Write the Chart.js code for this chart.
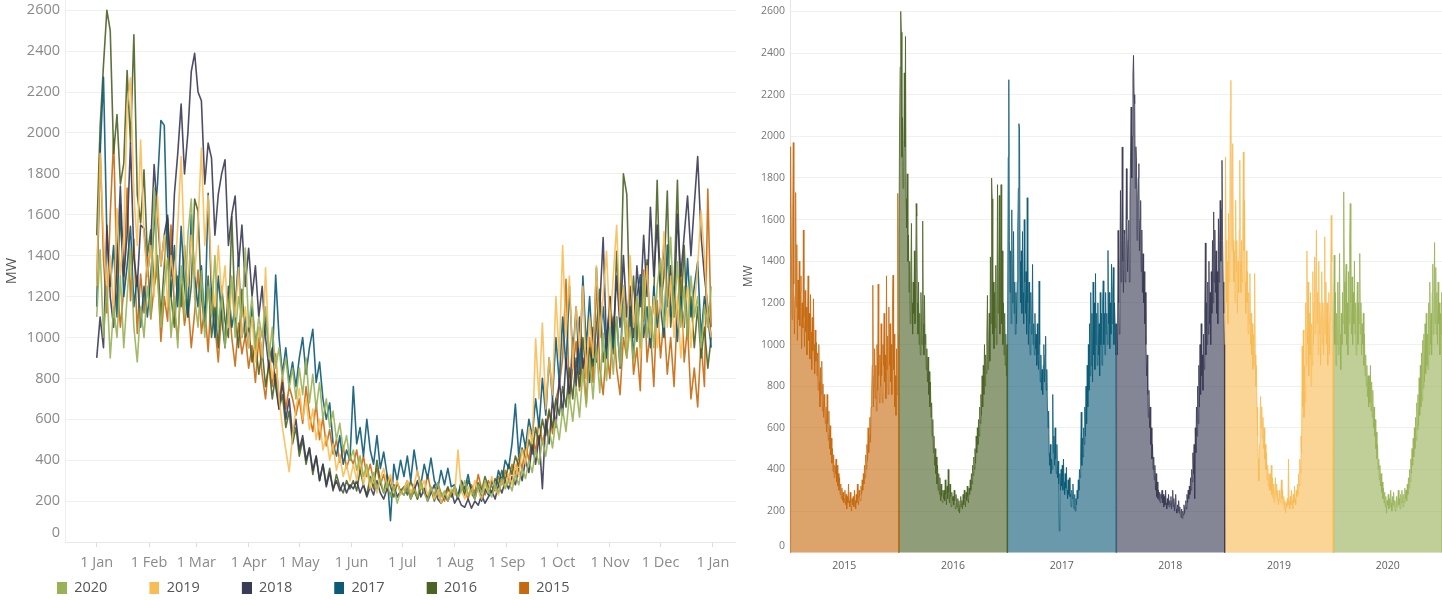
<!DOCTYPE html>
<html>
<head>
<meta charset="utf-8">
<title>Daily load by year</title>
<script src="https://cdn.jsdelivr.net/npm/chart.js@4.4.1/dist/chart.umd.min.js"></script>
<style>
  html, body { margin: 0; padding: 0; background: #ffffff; }
  #wrap { position: relative; width: 1442px; height: 600px; overflow: hidden; }
  #byDay { position: absolute; left: 0; top: 0; }
  #byYear { position: absolute; left: 736px; top: 0; }
</style>
</head>
<body>
<div id="wrap">
  <canvas id="byDay" width="736" height="600"></canvas>
  <canvas id="byYear" width="706" height="600"></canvas>
</div>
<script>
// ---- data -----------------------------------------------------------------
// One reading every second day (day 0, 2, 4 ... 364), MW, one row per month.
const dayStep = 2;

const monthLabels = ['1 Jan', '1 Feb', '1 Mar', '1 Apr', '1 May', '1 Jun', '1 Jul',
                     '1 Aug', '1 Sep', '1 Oct', '1 Nov', '1 Dec', '1 Jan'];
const monthStartDays = [0, 31, 59, 90, 120, 151, 181, 212, 243, 273, 304, 334, 365];

const legendYears = ['2020', '2019', '2018', '2017', '2016', '2015'];
const chronoYears = ['2015', '2016', '2017', '2018', '2019', '2020'];

const yearColors = {
  '2020': [152, 178, 87],
  '2019': [248, 188, 85],
  '2018': [58, 59, 84],
  '2017': [13, 90, 118],
  '2016': [75, 99, 37],
  '2015': [198, 106, 16]
};

const mw2015 = [
  1250, 1950, 1380, 1120, 1600, 1970, 1290, 1050, 1230, 1730, 1180, 1480, 1020, 1310, 1120, 1400,
  1090, 1250, 1330, 980, 1200, 1080, 1550, 1130, 990, 1260, 1060, 1180, 950, 1120,
  1330, 1020, 1150, 930, 1240, 1060, 880, 1130, 970, 1220, 1000, 860, 1070, 920, 1010,
  850, 960, 780, 1000, 820, 700, 890, 760, 920, 680, 810, 650, 760, 700, 620,
  700, 580, 760, 620, 540, 680, 500, 610, 470, 550, 430, 500, 390, 470, 360, 420,
  380, 450, 340, 420, 320, 380, 300, 360, 280, 330, 260, 310, 250, 290, 240,
  260, 300, 230, 280, 210, 270, 240, 330, 250, 220, 290, 240, 200, 260, 230,
  270, 220, 300, 250, 210, 280, 240, 330, 260, 230, 300, 270, 250, 320, 280, 350,
  300, 380, 330, 420, 360, 470, 400, 520, 440, 600, 480, 560, 650, 530, 700,
  760, 900, 1285, 700, 850, 980, 740, 900, 680, 1000, 780, 1290, 850, 720, 950,
  800, 1100, 850, 720, 1000, 900, 1150, 820, 950, 740, 1330, 880, 1040, 760, 1180,
  900, 1100, 820, 1000, 760, 1150, 1333, 880, 1050, 700, 850, 660, 980, 760, 1726, 1050
];

const mw2016 = [
  1500, 2030, 2333, 2600, 2500, 1900, 2090, 1750, 1850, 2305, 1950, 2480, 1700, 1560, 1820, 1400,
  1526, 1250, 1400, 1100, 1350, 1582, 1200, 1050, 1300, 1150, 1450, 1100, 1250, 1677,
  1617, 1200, 1050, 1300, 1000, 1150, 950, 1250, 1080, 1000, 1593, 1100, 950, 1236, 1000,
  1050, 880, 980, 820, 940, 760, 870, 700, 820, 650, 720, 560, 640, 480, 560,
  420, 500, 380, 460, 330, 420, 300, 380, 280, 360, 250, 330, 270, 240, 300, 260,
  300, 250, 350, 280, 230, 320, 260, 400, 290, 240, 330, 270, 220, 290, 250,
  270, 230, 300, 250, 210, 280, 240, 220, 260, 200, 250, 190, 230, 270, 220,
  250, 210, 280, 230, 300, 260, 220, 290, 250, 320, 270, 240, 310, 280, 350, 300,
  380, 330, 420, 370, 460, 400, 500, 430, 560, 480, 600, 520, 640, 560, 700,
  620, 760, 660, 850, 700, 900, 760, 1000, 800, 950, 860, 1050, 1236, 880, 1000,
  1150, 920, 1421, 1100, 1800, 1700, 1050, 1300, 980, 1250, 1080, 1380, 1000, 1200, 1768,
  1150, 1300, 1716, 1050, 1250, 1768, 1100, 1450, 1000, 1200, 950, 1150, 900, 1050, 850, 1000
];

const mw2017 = [
  1150, 1900, 2272, 1500, 1250, 1450, 1100, 1647, 1200, 1350, 1543, 1150, 1300, 1050, 1250, 1100,
  1300, 1550, 1750, 2061, 2037, 1400, 1200, 1450, 1150, 1543, 1250, 1100, 1600, 1300,
  1150, 1350, 1050, 1705, 1200, 1000, 1300, 1100, 950, 1250, 1050, 1150, 1385, 1000, 1100,
  950, 1150, 980, 1050, 900, 1100, 950, 880, 1305, 1000, 820, 950, 780, 880, 760,
  900, 1000, 820, 950, 1040, 780, 880, 700, 600, 680, 480, 420, 520, 380, 450, 400,
  760, 480, 560, 420, 600, 450, 380, 520, 360, 440, 330, 104, 380, 300, 400,
  320, 420, 300, 450, 340, 280, 380, 310, 410, 300, 260, 350, 280, 360, 270,
  280, 220, 300, 260, 330, 240, 210, 280, 200, 260, 230, 300, 260, 350, 300, 400,
  360, 480, 675, 420, 550, 460, 600, 520, 700, 560, 800, 620, 900, 700, 1000,
  780, 1100, 850, 1250, 900, 1150, 820, 1300, 950, 1200, 880, 1341, 1000, 1150, 900,
  1200, 950, 1100, 850, 1250, 1000, 1150, 900, 1200, 1306, 1000, 1150, 950, 1250, 1050,
  1150, 1000, 1452, 1100, 1250, 980, 1200, 1050, 1386, 1100, 1250, 1370, 1000, 1200, 1100, 950
];

const mw2018 = [
  900, 1100, 950, 1548, 1200, 1050, 1350, 1740, 1300, 1500, 1949, 1400, 1250, 1550, 1532, 1300,
  1450, 1845, 1600, 1350, 1500, 1597, 1300, 1700, 1900, 2141, 1800, 2000, 2300, 2389,
  2200, 2157, 1750, 1950, 1877, 1500, 1700, 1800, 1869, 1450, 1600, 1692, 1350, 1550, 1250,
  1436, 1200, 1350, 1100, 1250, 1000, 850, 950, 760, 650, 780, 600, 700, 520, 600,
  450, 520, 400, 460, 350, 420, 300, 380, 270, 340, 260, 300, 250, 290, 240, 280,
  260, 300, 240, 280, 220, 270, 230, 300, 240, 210, 260, 230, 280, 220, 250,
  230, 270, 210, 250, 300, 220, 260, 200, 240, 280, 210, 190, 230, 200, 250,
  190, 220, 180, 170, 210, 165, 200, 180, 230, 190, 220, 250, 210, 280, 240, 300,
  260, 320, 280, 360, 300, 400, 340, 480, 380, 520, 260, 600, 480, 700, 560,
  800, 620, 900, 700, 1000, 760, 1100, 850, 950, 780, 1050, 880, 1150, 1488, 950,
  1200, 1000, 1300, 1050, 1400, 1100, 1250, 1000, 1350, 1150, 1500, 1200, 1637, 1300, 1550,
  1250, 1450, 1150, 1350, 1100, 1604, 1300, 1500, 1692, 1400, 1650, 1885, 1500, 1300, 1150, 1000
];

const mw2019 = [
  1250, 1901, 1500, 1200, 1400, 1100, 1630, 1300, 1500, 2125, 2269, 1700, 1450, 1965, 1500, 1300,
  1450, 1200, 1693, 1350, 1500, 1150, 1400, 1250, 1550, 1885, 1400, 1250, 1500, 1300,
  1550, 1925, 1450, 1693, 1300, 1150, 1450, 1200, 1350, 1050, 1250, 1100, 1341, 1000, 1150,
  950, 1100, 880, 1050, 900, 1341, 950, 800, 900, 700, 560, 450, 344, 520, 650,
  750, 600, 700, 550, 650, 500, 600, 450, 520, 400, 480, 350, 420, 320, 380, 300,
  380, 300, 420, 280, 360, 260, 330, 240, 310, 360, 270, 330, 250, 300, 230,
  260, 300, 240, 280, 350, 260, 300, 230, 270, 210, 250, 190, 240, 220, 260,
  230, 450, 250, 210, 270, 230, 300, 250, 210, 280, 240, 320, 260, 230, 300, 270,
  330, 280, 380, 320, 450, 380, 560, 480, 993, 700, 1070, 650, 900, 720, 1200,
  900, 1450, 1000, 1300, 850, 1150, 950, 1250, 800, 1100, 900, 1350, 1000, 1200, 1421,
  1050, 1300, 1549, 1100, 1250, 950, 1400, 1050, 1200, 900, 1150, 1350, 1000, 1200, 950,
  1150, 1517, 1050, 1300, 1000, 1200, 900, 1100, 1250, 950, 1150, 1350, 1620, 1400, 1100, 1000
];

const mw2020 = [
  1100, 1429, 1000, 1250, 900, 1150, 1000, 1300, 950, 1200, 1437, 1050, 880, 1150, 1000, 1250,
  1100, 1733, 1300, 1050, 1250, 1386, 1000, 1200, 950, 1350, 1100, 1500, 1677, 1200,
  1050, 1325, 1000, 1250, 1100, 1400, 1050, 1200, 950, 1150, 1300, 1000, 1200, 1100, 1437,
  1050, 1200, 950, 1100, 1000, 1150, 900, 1050, 850, 950, 800, 900, 750, 850, 700,
  850, 720, 900, 680, 820, 650, 780, 600, 700, 560, 640, 500, 580, 450, 520, 400,
  450, 350, 420, 320, 380, 290, 340, 260, 310, 240, 290, 220, 270, 190, 250,
  230, 280, 210, 260, 220, 300, 240, 200, 270, 230, 290, 220, 250, 200, 240,
  270, 220, 250, 300, 230, 260, 210, 280, 240, 300, 250, 220, 280, 240, 310, 260,
  300, 250, 330, 280, 360, 310, 400, 340, 450, 380, 500, 420, 550, 460, 600,
  500, 650, 540, 720, 590, 760, 610, 840, 660, 900, 700, 960, 730, 1020, 790,
  1050, 820, 1100, 860, 1150, 900, 1050, 880, 1200, 950, 1300, 1000, 1150, 950, 1250,
  1386, 1050, 1200, 1490, 1100, 1370, 1050, 1250, 1000, 1300, 1100, 1200, 950, 1150, 1050, 1250
];

const mwByYear = { '2015': mw2015, '2016': mw2016, '2017': mw2017,
                   '2018': mw2018, '2019': mw2019, '2020': mw2020 };

// ---- shared styling -------------------------------------------------------
const FONT = '"Open Sans", "Noto Sans", sans-serif';
const rgba = (c, a) => `rgba(${c[0]}, ${c[1]}, ${c[2]}, ${a})`;
const noPad = s => { s.paddingLeft = 0; s.paddingRight = 0; s.paddingTop = 0; s.paddingBottom = 0; };
// the zero label sits a little above its baseline (an empty second line lifts it)
const axisNumber = v => (v === 0 ? ['0', ''] : String(v));

// legend swatches: a small square sitting at the right end of a wide marker
const legendFontSize = 14.5;
const legendPad = 4;
const legendStep = 92;
const meas = document.createElement('canvas').getContext('2d');
meas.font = `${legendFontSize}px ${FONT}`;
const swatchW = Math.round(legendStep - legendPad - legendFontSize / 2 - meas.measureText('2020').width);
function swatch(color) {
  const c = document.createElement('canvas');
  c.width = swatchW;
  c.height = 12;
  const g = c.getContext('2d');
  g.fillStyle = rgba(color, 1);
  g.fillRect(swatchW - 10, 0, 10, 12);
  return c;
}
const swatches = legendYears.map(y => swatch(yearColors[y]));

// ---- left: every year laid over one Jan-Dec axis ---------------------------
new Chart(document.getElementById('byDay'), {
  type: 'line',
  data: {
    datasets: legendYears.map(y => ({
      label: y,
      data: mwByYear[y].map((v, i) => ({ x: i * dayStep, y: v })),
      borderColor: rgba(yearColors[y], 0.9),
      backgroundColor: rgba(yearColors[y], 1),
      borderWidth: 1.6,
      borderJoinStyle: 'round',
      pointRadius: 0,
      tension: 0,
      fill: false
    }))
  },
  options: {
    responsive: false,
    animation: false,
    devicePixelRatio: 1,
    events: [],
    layout: { padding: { left: 15, right: 0, top: 0, bottom: -5 } },
    plugins: {
      tooltip: { enabled: false },
      legend: {
        position: 'bottom',
        align: 'start',
        labels: {
          usePointStyle: true,
          pointStyleWidth: swatchW,
          boxHeight: 12,
          padding: legendPad,
          color: '#555555',
          font: { family: FONT, size: legendFontSize },
          generateLabels: chart =>
            Chart.defaults.plugins.legend.labels.generateLabels(chart)
              .map((item, i) => Object.assign(item, { pointStyle: swatches[i] }))
        }
      }
    },
    scales: {
      x: {
        type: 'linear',
        min: -18.8,
        max: 378.7,
        afterBuildTicks: s => { s.ticks = monthStartDays.map(v => ({ value: v })); },
        afterFit: s => { s.height = 34.5; noPad(s); },
        ticks: {
          autoSkip: false,
          maxRotation: 0,
          padding: 7,
          color: '#8a8a8a',
          font: { family: FONT, size: 14.5 },
          callback: (v, i) => monthLabels[i]
        },
        grid: { drawOnChartArea: false, drawTicks: true, tickLength: 5, color: '#dddddd' },
        border: { color: '#e8e8e8' }
      },
      y: {
        min: 0,
        max: 2650,
        afterFit: s => { s.width = 50; noPad(s); },
        ticks: {
          stepSize: 200,
          includeBounds: false,
          padding: 5,
          color: '#8a8a8a',
          font: { family: FONT, size: 14.5 },
          callback: axisNumber
        },
        grid: { color: '#f0f0f0', drawTicks: false },
        border: { color: '#eeeeee' },
        title: {
          display: true,
          text: 'MW',
          color: '#555555',
          font: { family: FONT, size: 14.5 },
          padding: { top: -12, bottom: 0 }
        }
      }
    }
  }
});

// ---- right: the years one after another, each as a filled area -------------
new Chart(document.getElementById('byYear'), {
  type: 'line',
  data: {
    datasets: chronoYears.map((y, k) => {
      const vals = mwByYear[y];
      const n = vals.length;
      // area closes down to the baseline at both ends of its year
      const pts = [{ x: k, y: 0 }]
        .concat(vals.map((v, i) => ({ x: k + (i + 0.5) / n, y: v })))
        .concat([{ x: k + 1, y: 0 }]);
      return {
        label: y,
        data: pts,
        xAxisID: 'd',
        yAxisID: 'y',
        borderColor: rgba(yearColors[y], 0.8),
        backgroundColor: rgba(yearColors[y], 0.62),
        borderWidth: 1,
        borderJoinStyle: 'round',
        pointRadius: 0,
        tension: 0,
        fill: 'origin'
      };
    })
  },
  options: {
    responsive: false,
    animation: false,
    devicePixelRatio: 1,
    events: [],
    layout: { padding: 0 },
    plugins: { legend: { display: false }, tooltip: { enabled: false } },
    scales: {
      d: { type: 'linear', axis: 'x', position: 'bottom', min: 0, max: 6, display: false },
      yr: {
        type: 'category',
        axis: 'x',
        position: 'bottom',
        labels: chronoYears,
        offset: true,
        afterFit: s => { s.height = 47.3; noPad(s); },
        ticks: { padding: 7, color: '#5f5f5f', font: { family: FONT, size: 10.5 } },
        grid: { display: false, drawTicks: false },
        border: { display: false }
      },
      y: {
        min: 0,
        max: 2655,
        afterFit: s => { s.width = 54; noPad(s); },
        ticks: {
          stepSize: 200,
          includeBounds: false,
          padding: 5,
          color: '#777777',
          font: { family: FONT, size: 10.5 },
          callback: axisNumber
        },
        grid: { color: '#f0f0f0', drawTicks: false },
        border: { color: '#e6e6e6' },
        title: {
          display: true,
          text: 'MW',
          color: '#555555',
          font: { family: FONT, size: 12 },
          padding: { top: 5, bottom: 0 }
        }
      }
    }
  }
});
</script>
</body>
</html>
